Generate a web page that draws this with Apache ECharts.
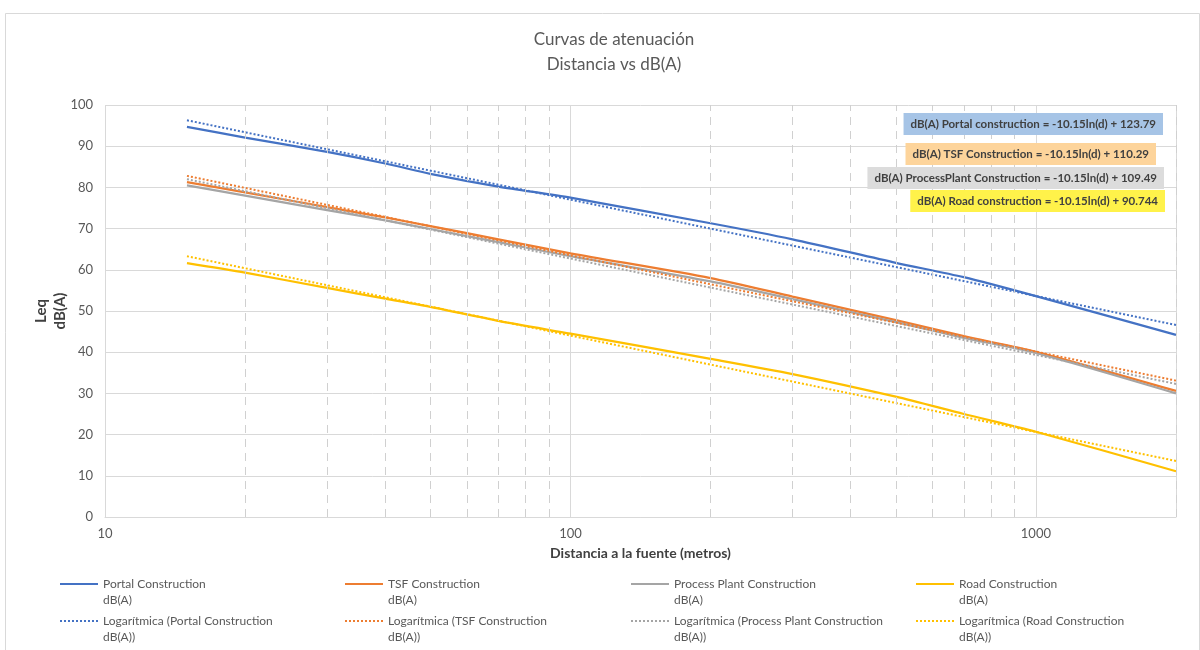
<!DOCTYPE html>
<html><head><meta charset="utf-8">
<script src="https://cdn.jsdelivr.net/npm/echarts@6/dist/echarts.min.js"></script>
<style>html,body{margin:0;padding:0;background:#fff}#c{width:1200px;height:650px}</style>
</head><body><div id="c"></div>
<script>
// ---- data ----
const distances = [15, 20, 30, 40, 50, 70, 100, 200, 300, 500, 700, 1000, 2000];
const portal  = [94.7, 92.1, 88.6, 85.8, 83.3, 80.2, 77.5, 71.3, 67.4, 61.7, 58.2, 53.6, 44.2];
const tsf     = [81.3, 78.8, 75.2, 72.7, 70.6, 67.4, 64.0, 58.0, 53.5, 47.8, 43.9, 40.1, 30.6];
const process = [80.5, 78.0, 74.5, 72.0, 69.9, 66.7, 63.3, 57.2, 52.9, 47.3, 43.5, 39.8, 30.0];
const road    = [61.6, 59.3, 55.6, 53.0, 51.0, 47.6, 44.5, 38.4, 34.7, 29.2, 25.0, 20.7, 11.1];

const trendDist    = [15, 2000];
const portalTrend  = [96.3, 46.6];
const tsfTrend     = [82.8, 33.1];
const processTrend = [82.0, 32.3];
const roadTrend    = [63.3, 13.6];

const seriesNames = ['Portal Construction\ndB(A)', 'TSF Construction\ndB(A)', 'Process Plant Construction\ndB(A)', 'Road Construction\ndB(A)'];
const trendNames = ['Logarítmica (Portal Construction\ndB(A))', 'Logarítmica (TSF Construction\ndB(A))', 'Logarítmica (Process Plant Construction\ndB(A))', 'Logarítmica (Road Construction\ndB(A))'];
const equations = [
  'dB(A) Portal construction = -10.15ln(d) + 123.79',
  'dB(A) TSF Construction = -10.15ln(d) + 110.29',
  'dB(A) ProcessPlant Construction = -10.15ln(d) + 109.49',
  'dB(A) Road construction = -10.15ln(d) + 90.744'
];
const minorDist = [20, 30, 40, 50, 60, 70, 80, 90, 200, 300, 400, 500, 600, 700, 800, 900, 2000];
const xTickLabels = [10, 100, 1000];
const yTicks = [0, 100, 10]; // min, max, interval

// ---- styling ----
const colors = ['#4472C4', '#ED7D31', '#A5A5A5', '#FFC000'];
const eqBg = ['#A6C4E6', '#FDD49B', '#DCDCDC', '#FFF24A'];
const eqX = [1163, 1156, 1164, 1165];
const eqY = [124, 154, 178, 201];
const legendLeft = [59, 344, 630, 915];
const FONT = 'Lato, "Open Sans", sans-serif';

const solidValues = [portal, tsf, process, road];
const trendValues = [portalTrend, tsfTrend, processTrend, roadTrend];

const series = [];
solidValues.forEach((vals, i) => {
  series.push({
    name: seriesNames[i], type: 'line', symbol: 'none', smooth: 0.25,
    data: distances.map((d, k) => [d, vals[k]]),
    lineStyle: { color: colors[i], width: 2.25 }, itemStyle: { color: colors[i] },
    z: 3
  });
});
trendValues.forEach((vals, i) => {
  series.push({
    name: trendNames[i], type: 'line', symbol: 'none',
    data: trendDist.map((d, k) => [d, vals[k]]),
    lineStyle: { color: colors[i], width: 2, type: [2, 2] }, itemStyle: { color: colors[i] },
    z: 4
  });
});
series.push({
  type: 'line', data: [], silent: true, z: 1,
  markLine: {
    silent: true, symbol: ['none', 'none'], label: { show: false },
    lineStyle: { color: '#D0D0D0', width: 1, type: [8, 6] },
    emphasis: { disabled: true },
    data: minorDist.map(v => ({ xAxis: v }))
  }
});

const legends = [];
for (let i = 0; i < 4; i++) {
  [[seriesNames[i], 560], [trendNames[i], 597]].forEach(([n, top]) => {
    legends.push({
      data: [n], left: legendLeft[i], top: top, padding: 0,
      itemWidth: 38, itemHeight: 14, selectedMode: false,
      itemStyle: { opacity: 0, color: 'rgba(0,0,0,0)', borderColor: 'rgba(0,0,0,0)', borderWidth: 0 },
      formatter: name => '\n' + name,
      textStyle: { color: '#595959', fontSize: 12, lineHeight: 16, fontFamily: FONT }
    });
  });
}

const graphics = [{
  type: 'rect', left: 3, top: 11, shape: { x: 0, y: 0, width: 1194, height: 645 },
  style: { fill: 'none', stroke: '#D9D9D9', lineWidth: 1 }, silent: true
}];
equations.forEach((t, i) => {
  graphics.push({
    type: 'text', x: eqX[i], y: eqY[i], silent: true, z: 100,
    style: {
      text: t, align: 'right', verticalAlign: 'middle',
      font: 'bold 11.5px ' + FONT, fill: '#404040',
      backgroundColor: eqBg[i], padding: [5, 7, 5, 7]
    }
  });
});

const chart = echarts.init(document.getElementById('c'), null, { renderer: 'canvas' });
chart.setOption({
  animation: false,
  backgroundColor: '#fff',
  title: {
    text: 'Curvas de atenuación\nDistancia vs dB(A)',
    left: 609, top: 22, textAlign: 'center',
    textStyle: { color: '#595959', fontSize: 17, fontWeight: 'normal', lineHeight: 25, fontFamily: FONT }
  },
  legend: legends,
  grid: { left: 105, right: 24, top: 105, bottom: 133, containLabel: false },
  xAxis: {
    type: 'log', logBase: 10, min: 10, max: 2000,
    name: 'Distancia a la fuente (metros)', nameLocation: 'middle', nameGap: 29,
    nameTextStyle: { color: '#404040', fontSize: 14, fontWeight: 'bold', fontFamily: FONT },
    axisLine: { show: true, lineStyle: { color: '#D9D9D9' } },
    axisTick: { show: false },
    axisLabel: {
      color: '#595959', fontSize: 13, margin: 10, fontFamily: FONT, showMaxLabel: false,
      formatter: v => (xTickLabels.indexOf(Math.round(v)) >= 0 ? String(Math.round(v)) : '')
    },
    splitLine: { show: true, lineStyle: { color: '#D9D9D9', width: 1 } },
    minorTick: { show: false }, minorSplitLine: { show: false }
  },
  yAxis: {
    type: 'value', min: yTicks[0], max: yTicks[1], interval: yTicks[2],
    name: 'Leq\ndB(A)', nameLocation: 'middle', nameGap: 35, nameRotate: 90, nameMoveOverlap: false,
    nameTextStyle: { color: '#404040', fontSize: 15, fontWeight: 'bold', lineHeight: 19, fontFamily: FONT },
    axisLine: { show: false }, axisTick: { show: false },
    axisLabel: { color: '#595959', fontSize: 13, margin: 12, fontFamily: FONT },
    splitLine: { show: true, lineStyle: { color: '#D9D9D9', width: 1 } }
  },
  graphic: graphics,
  series: series
});
</script></body></html>
